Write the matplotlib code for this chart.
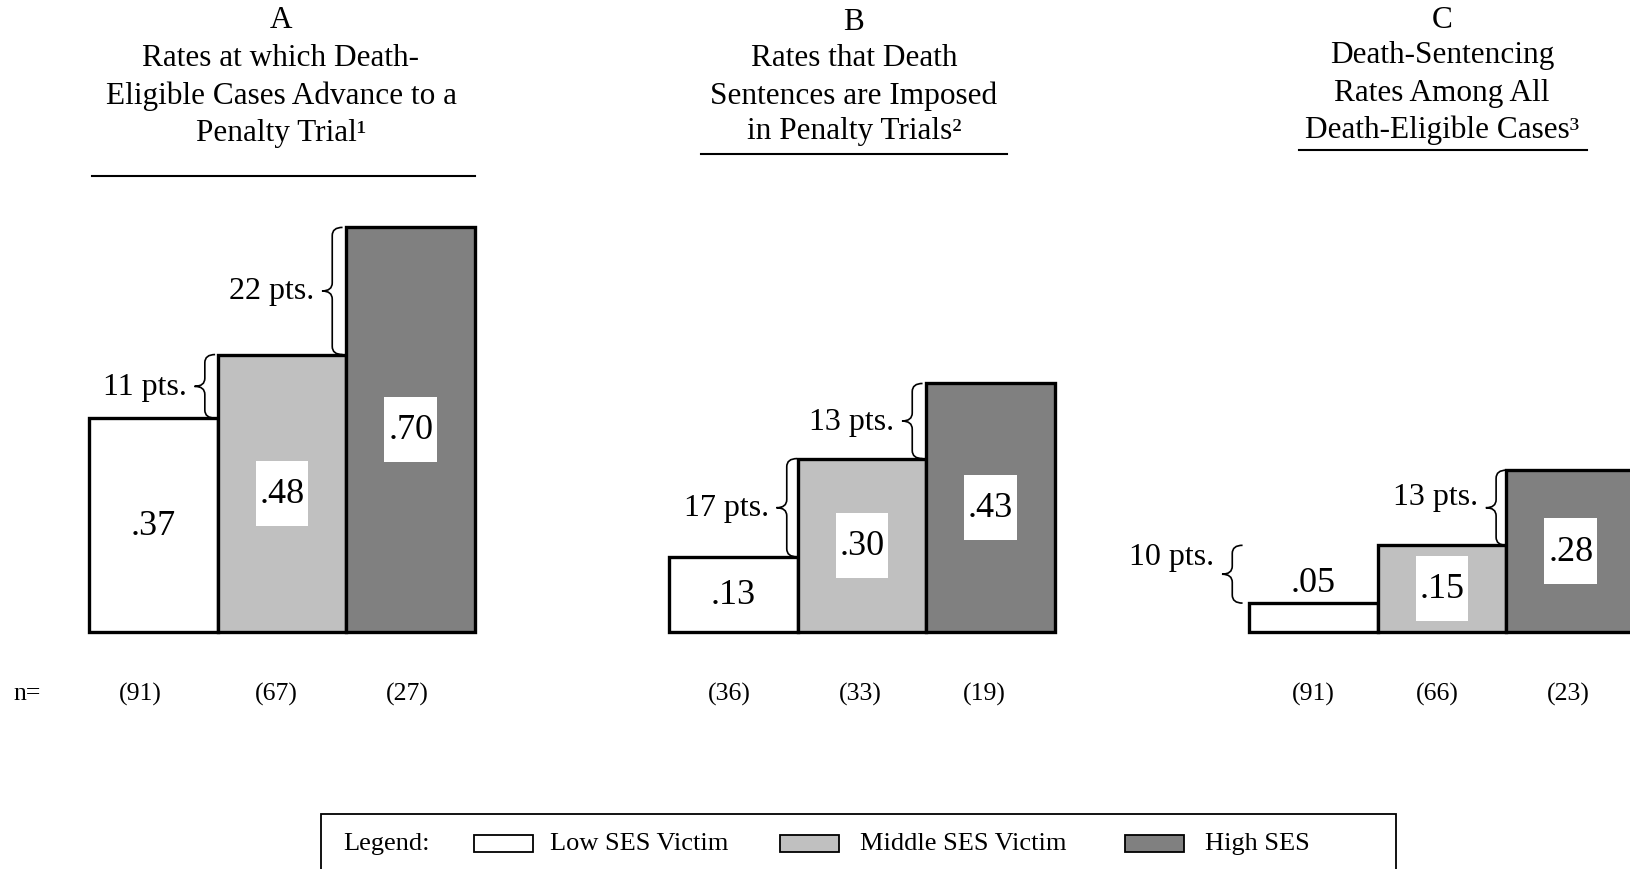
import matplotlib
matplotlib.use('Agg')
import matplotlib.pyplot as plt
from matplotlib.path import Path
from matplotlib.patches import PathPatch, Rectangle
from matplotlib.lines import Line2D

plt.rcParams['font.family'] = ['Liberation Serif', 'DejaVu Serif']

# --- data ---
letters = ['A', 'B', 'C']
titles = [
    ['Rates at which Death-', 'Eligible Cases Advance to a', 'Penalty Trial\u00b9'],
    ['Rates that Death', 'Sentences are Imposed', 'in Penalty Trials\u00b2'],
    ['Death-Sentencing', 'Rates Among All', 'Death-Eligible Cases\u00b3'],
]
rates_low = [0.37, 0.13, 0.05]
rates_mid = [0.48, 0.30, 0.15]
rates_high = [0.70, 0.43, 0.28]
n_low = [91, 36, 91]
n_mid = [67, 33, 66]
n_high = [27, 19, 23]
gap_low_mid = ['11 pts.', '17 pts.', '10 pts.']
gap_mid_high = ['22 pts.', '13 pts.', '13 pts.']
series = ['Low SES Victim', 'Middle SES Victim', 'High SES']
colors = ['white', '#c0c0c0', '#808080']

# --- layout (pixels of the 1631x870 canvas) ---
W, H = 1631, 870
axes_left = [89, 669, 1249]
bar_px = 128.7
base_px = 633
unit_px = 578
title_cx = [281, 854, 1442]
title_rows = [[21, 59, 96, 133], [23, 59, 96, 132], [21, 56, 93, 130]]
rules = [(92, 475, 177), (701, 1007, 155), (1299, 1587, 151)]
brace_right = [[0.98, 1.97], [0.995, 1.97], [-0.05, 2.0]]
brace_lab_dy = [[0, 0], [0, 0], [0.03, 0.02]]
n_x = [[140, 276, 407], [729, 860, 984], [1313, 1437, 1568]]

fig = plt.figure(figsize=(W / 100, H / 100), dpi=100)


def fx(px):
    return px / W


def fy(py):
    return 1 - py / H


def brace(ax, xr, y0, y1, w=0.16, r=0.014):
    """Vertical curly brace, arms curling right to xr, tip pointing left."""
    x = xr - w
    xm = xr - w / 2
    ym = (y0 + y1) / 2
    verts = [(xr, y1), (xm, y1), (xm, y1 - r), (xm, ym + r),
             (xm, ym), (x, ym), (xm, ym), (xm, ym - r),
             (xm, y0 + r), (xm, y0), (xr, y0)]
    codes = [Path.MOVETO, Path.CURVE3, Path.CURVE3, Path.LINETO,
             Path.CURVE3, Path.CURVE3, Path.CURVE3, Path.CURVE3,
             Path.LINETO, Path.CURVE3, Path.CURVE3]
    ax.add_patch(PathPatch(Path(verts, codes), fc='none', ec='black',
                           lw=1.2, clip_on=False))
    return x, ym


for p in range(3):
    vals = [rates_low[p], rates_mid[p], rates_high[p]]
    ns = [n_low[p], n_mid[p], n_high[p]]
    ax = fig.add_axes([fx(axes_left[p]), fy(base_px), 3 * bar_px / W, unit_px / H])
    ax.set_xlim(0, 3)
    ax.set_ylim(0, 1)
    ax.axis('off')
    ax.bar(range(3), vals, width=1, align='edge', color=colors,
           edgecolor='black', linewidth=2.4, clip_on=False, zorder=2)

    for i, v in enumerate(vals):
        if v < 0.1:
            ax.text(i + 0.5, v + 0.035, f'{v:.2f}'[1:], ha='center', va='center',
                    fontsize=26, zorder=4)
            continue
        if i > 0:
            ax.add_patch(Rectangle((i + 0.5 - 0.205, v / 2 - 0.0565), 0.41, 0.113,
                                   fc='white', ec='none', zorder=3))
        ax.text(i + 0.5, v / 2, f'{v:.2f}'[1:], ha='center', va='center',
                fontsize=26, zorder=4)

    gaps = [gap_low_mid[p], gap_mid_high[p]]
    for k in range(2):
        tip_x, tip_y = brace(ax, brace_right[p][k], vals[k], vals[k + 1])
        ax.text(tip_x - 0.06, tip_y + brace_lab_dy[p][k], gaps[k],
                ha='right', va='center', fontsize=23)

    # titles
    rows = title_rows[p]
    fig.text(fx(title_cx[p]), fy(rows[0]), letters[p], ha='center', va='center',
             fontsize=22.5)
    for line, y in zip(titles[p], rows[1:]):
        fig.text(fx(title_cx[p]), fy(y), line, ha='center', va='center',
                 fontsize=22.5)
    x0, x1, yr = rules[p]
    fig.add_artist(Line2D([fx(x0), fx(x1)], [fy(yr), fy(yr)], color='black', lw=1.5))

    # sample sizes
    for n, cx in zip(ns, n_x[p]):
        fig.text(fx(cx), fy(694), f'({n})', ha='center', va='center', fontsize=18.5)

fig.text(fx(13), fy(694), 'n=', ha='left', va='center', fontsize=18.5)

# legend box
fig.add_artist(Rectangle((fx(321), fy(873)), fx(1396 - 321), (873 - 815) / H,
                         fc='none', ec='black', lw=1.3, transform=fig.transFigure))
fig.text(fx(343), fy(844), 'Legend:', ha='left', va='center', fontsize=19)
sw_x = [474, 780, 1125]
lab_x = [550, 860, 1205]
for s, c, sx, lx in zip(series, colors, sw_x, lab_x):
    fig.add_artist(Rectangle((fx(sx), fy(853)), fx(59), 17 / H, fc=c, ec='black',
                             lw=1.3, transform=fig.transFigure))
    fig.text(fx(lx), fy(844), s, ha='left', va='center', fontsize=19)

fig.savefig('out.png', dpi=100)
